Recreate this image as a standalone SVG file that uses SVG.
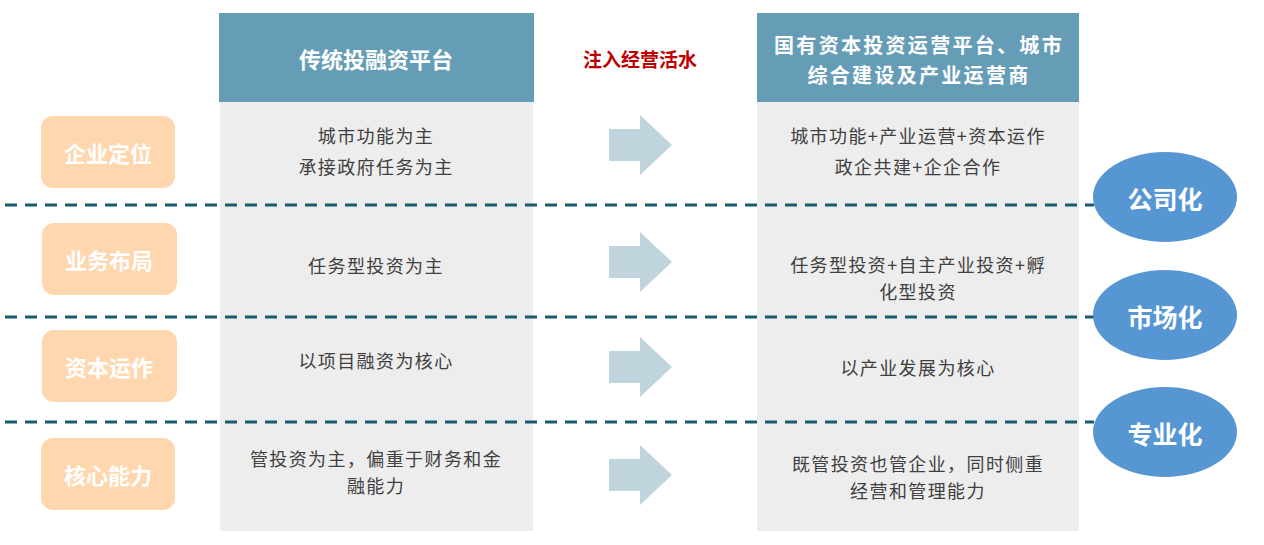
<svg xmlns="http://www.w3.org/2000/svg" width="1264" height="545" viewBox="0 0 1264 545">
<style>
.hdr{fill:#669DB6}
.body{fill:#EDEDED}
.lbl rect{fill:#FFD7AE}
.lbl text{fill:#FFFFFF;font-weight:bold;font-size:22px}
.ell ellipse{fill:#5696D3}
.ell text{fill:#FFFFFF;font-weight:bold;font-size:25px}
text{font-family:"Noto Sans CJK SC","Microsoft YaHei",sans-serif;text-anchor:middle;dominant-baseline:central}
.ht{fill:#FFFFFF;font-weight:bold;font-size:22px}
.ht2{fill:#FFFFFF;font-weight:bold;font-size:20px;letter-spacing:2.3px}
.bt{fill:#404040;font-size:18px;letter-spacing:1.4px}
.dash{stroke:#1B5A6E;stroke-width:3;stroke-dasharray:12 8;fill:none}
.arr{fill:#C0D4DD}
</style>
<g id="col-left">
<rect class="hdr" x="219" y="13" width="315" height="89"/>
<rect class="body" x="220" y="102" width="313" height="429"/>
<text class="ht" x="376" y="58">传统投融资平台</text>
</g>
<g id="col-right">
<rect class="hdr" x="757" y="13" width="322" height="89"/>
<rect class="body" x="757" y="102" width="322" height="429"/>
<text class="ht2" x="919" y="44">国有资本投资运营平台、城市</text>
<text class="ht2" x="919" y="74">综合建设及产业运营商</text>
</g>
<g id="inject"><text x="640" y="58" style="fill:#C00000;font-weight:bold;font-size:19px">注入经营活水</text></g>
<g id="connectors">
<line class="dash" x1="5" y1="205" x2="1094" y2="205"/>
<line class="dash" x1="5" y1="317" x2="1094" y2="317"/>
<line class="dash" x1="5" y1="422" x2="1094" y2="422"/>
<polygon class="arr" points="609,129 640,129 640,115 672,145 640,175 640,161 609,161"/>
<polygon class="arr" points="609,246 640,246 640,232 672,262 640,292 640,278 609,278"/>
<polygon class="arr" points="609,351 640,351 640,337 672,367 640,397 640,383 609,383"/>
<polygon class="arr" points="609,459 640,459 640,445 672,475 640,505 640,491 609,491"/>
</g>
<g id="lbl1" class="lbl"><rect x="41" y="116" width="134" height="72" rx="12"/><text x="108" y="152">企业定位</text></g>
<g id="lbl2" class="lbl"><rect x="42" y="223" width="135" height="72" rx="12"/><text x="109" y="259">业务布局</text></g>
<g id="lbl3" class="lbl"><rect x="42" y="330" width="135" height="72" rx="12"/><text x="109" y="366">资本运作</text></g>
<g id="lbl4" class="lbl"><rect x="41" y="438" width="134" height="72" rx="12"/><text x="108" y="474">核心能力</text></g>
<g id="ell1" class="ell"><ellipse cx="1165" cy="197" rx="72" ry="45"/><text x="1165" y="198">公司化</text></g>
<g id="ell2" class="ell"><ellipse cx="1165" cy="315" rx="72" ry="45"/><text x="1165" y="316">市场化</text></g>
<g id="ell3" class="ell"><ellipse cx="1165" cy="432" rx="72" ry="45"/><text x="1165" y="433">专业化</text></g>
<g id="texts-left">
<text class="bt" x="376" y="135">城市功能为主</text>
<text class="bt" x="376" y="166">承接政府任务为主</text>
<text class="bt" x="376" y="265">任务型投资为主</text>
<text class="bt" x="376" y="360">以项目融资为核心</text>
<text class="bt" x="376" y="458">管投资为主，偏重于财务和金</text>
<text class="bt" x="376" y="485">融能力</text>
</g>
<g id="texts-right">
<text class="bt" x="918" y="135">城市功能+产业运营+资本运作</text>
<text class="bt" x="918" y="166">政企共建+企企合作</text>
<text class="bt" x="918" y="264">任务型投资+自主产业投资+孵</text>
<text class="bt" x="918" y="291">化型投资</text>
<text class="bt" x="918" y="367">以产业发展为核心</text>
<text class="bt" x="918" y="463">既管投资也管企业，同时侧重</text>
<text class="bt" x="918" y="490">经营和管理能力</text>
</g>
</svg>
